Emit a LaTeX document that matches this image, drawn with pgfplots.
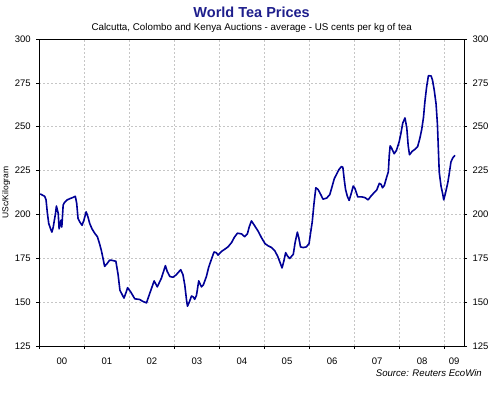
\documentclass[border=0pt]{standalone}
\usepackage{fontspec}
\setmainfont{Liberation Sans}
\usepackage{pgfplots}
\pgfplotsset{compat=1.18}
\definecolor{titleblue}{RGB}{30,30,140}
\definecolor{lineblue}{RGB}{0,0,150}
\begin{document}
\begin{tikzpicture}
\pgfplotsset{
  common/.style={
    at={(0,0)}, anchor=south west,
    scale only axis, width=424.7pt, height=307pt,
    xmin=2000, xmax=2009.43, ymin=125, ymax=300,
    ytick={125,150,...,300},
    /pgf/number format/assume math mode=true,
    tick label style={font=\fontsize{9.5}{10}\selectfont},
    axis line style={line width=0.9pt},
    tick style={black, line width=0.6pt},
    tick align=outside, major tick length=3pt,
  }
}
\begin{axis}[common,
  xtick={2000,...,2009}, xticklabels={},
  extra x ticks={2000.5,2001.5,2002.5,2003.5,2004.5,2005.5,2006.5,2007.5,2008.5,2009.21},
  extra x tick labels={00,01,02,03,04,05,06,07,08,09},
  extra x tick style={major tick length=0pt, grid=none, tick label style={yshift=-8pt}},
  ytick pos=left, xtick pos=bottom,
  grid=major,
  major grid style={dash pattern=on 2pt off 2pt, gray!45, line width=0.5pt},
  yticklabel style={xshift=-2pt},
  ylabel={USc/Kilogram},
  ylabel style={font=\fontsize{8.5}{9}\selectfont, yshift=-2pt},
  title={\textcolor{titleblue}{\fontsize{14.5}{15}\selectfont\bfseries World Tea Prices}\\[1pt]{\fontsize{9.8}{10}\selectfont Calcutta, Colombo and Kenya Auctions - average - US cents per kg of tea}},
  title style={align=center, yshift=-3.5pt},
]
\addplot[lineblue, line width=1.6pt, line join=round] table {
2000.02 211.7
2000.12 210.3
2000.15 208.3
2000.18 200.6
2000.21 194.8
2000.25 191.8
2000.28 189.9
2000.31 192.8
2000.36 200.6
2000.38 204.8
2000.42 200.6
2000.44 191.8
2000.48 196.7
2000.50 192.8
2000.53 205.4
2000.56 206.8
2000.62 208.3
2000.67 208.9
2000.75 209.7
2000.80 210.3
2000.83 206.4
2000.86 197.7
2000.90 195.7
2000.95 193.8
2000.99 196.7
2001.04 201.5
2001.08 198.6
2001.12 194.8
2001.17 191.8
2001.23 189.3
2001.29 187.3
2001.34 183.1
2001.38 179.2
2001.42 174.3
2001.45 170.4
2001.50 171.8
2001.56 173.9
2001.60 173.9
2001.70 173.3
2001.75 165.6
2001.79 156.8
2001.84 154.3
2001.88 152.3
2001.93 155.8
2001.96 158.2
2002.03 155.8
2002.12 151.9
2002.23 151.5
2002.30 150.4
2002.38 149.6
2002.45 154.8
2002.55 162.1
2002.62 158.7
2002.71 163.6
2002.80 170.8
2002.84 167.5
2002.90 164.6
2002.97 164.2
2003.04 165.6
2003.14 168.5
2003.19 165.6
2003.23 159.8
2003.27 151.0
2003.29 147.7
2003.33 150.0
2003.38 153.5
2003.42 152.9
2003.45 151.6
2003.49 153.9
2003.54 162.1
2003.60 158.7
2003.64 159.7
2003.71 164.6
2003.76 169.8
2003.82 174.3
2003.88 178.6
2003.93 178.2
2003.97 176.8
2004.04 178.8
2004.12 180.2
2004.19 181.5
2004.27 184.0
2004.33 186.9
2004.40 189.3
2004.49 188.9
2004.56 187.3
2004.62 188.9
2004.66 192.8
2004.71 196.3
2004.79 193.2
2004.86 190.4
2004.93 186.9
2005.01 183.4
2005.08 182.1
2005.16 181.1
2005.23 179.2
2005.29 176.3
2005.34 173.0
2005.39 169.5
2005.43 173.4
2005.47 178.2
2005.51 176.3
2005.56 174.9
2005.64 177.3
2005.68 184.0
2005.73 189.9
2005.76 186.9
2005.80 181.5
2005.86 181.1
2005.93 181.5
2005.99 183.4
2006.02 188.9
2006.06 195.7
2006.10 206.4
2006.14 215.2
2006.19 214.2
2006.25 211.3
2006.30 208.7
2006.38 209.3
2006.45 211.3
2006.50 215.8
2006.55 220.4
2006.60 222.9
2006.65 225.5
2006.71 227.3
2006.74 226.9
2006.77 220.0
2006.80 214.2
2006.84 210.3
2006.88 208.0
2006.93 212.3
2006.97 216.2
2007.01 214.7
2007.07 210.0
2007.16 210.0
2007.23 209.6
2007.30 208.3
2007.36 210.3
2007.44 212.6
2007.49 213.8
2007.55 217.7
2007.59 217.1
2007.62 215.2
2007.66 216.5
2007.71 221.0
2007.75 224.3
2007.77 233.6
2007.79 239.1
2007.82 237.9
2007.88 234.6
2007.93 236.5
2007.99 241.4
2008.03 246.3
2008.07 252.1
2008.12 255.0
2008.16 249.2
2008.19 239.4
2008.22 234.0
2008.28 236.0
2008.34 237.1
2008.40 238.6
2008.45 243.4
2008.49 248.3
2008.53 255.2
2008.56 263.9
2008.60 272.7
2008.64 279.1
2008.70 278.9
2008.73 276.6
2008.77 270.7
2008.81 262.9
2008.84 251.3
2008.86 237.7
2008.88 224.1
2008.92 216.1
2008.96 211.3
2008.98 208.3
2009.02 212.3
2009.07 218.1
2009.10 222.9
2009.14 229.9
2009.18 232.2
2009.23 233.7
};
\end{axis}
\begin{axis}[common,
  xtick=\empty, ytick pos=right, yticklabel pos=right,
  yticklabel style={xshift=2pt},
]
\end{axis}
\node[anchor=south east, font=\fontsize{9.6}{10}\selectfont\itshape] at (446pt,-34pt) {Source: Reuters EcoWin};
\pgfresetboundingbox
\path[use as bounding box] (-39.3pt,-47pt) rectangle (451.7pt,346pt);
\end{tikzpicture}
\end{document}
